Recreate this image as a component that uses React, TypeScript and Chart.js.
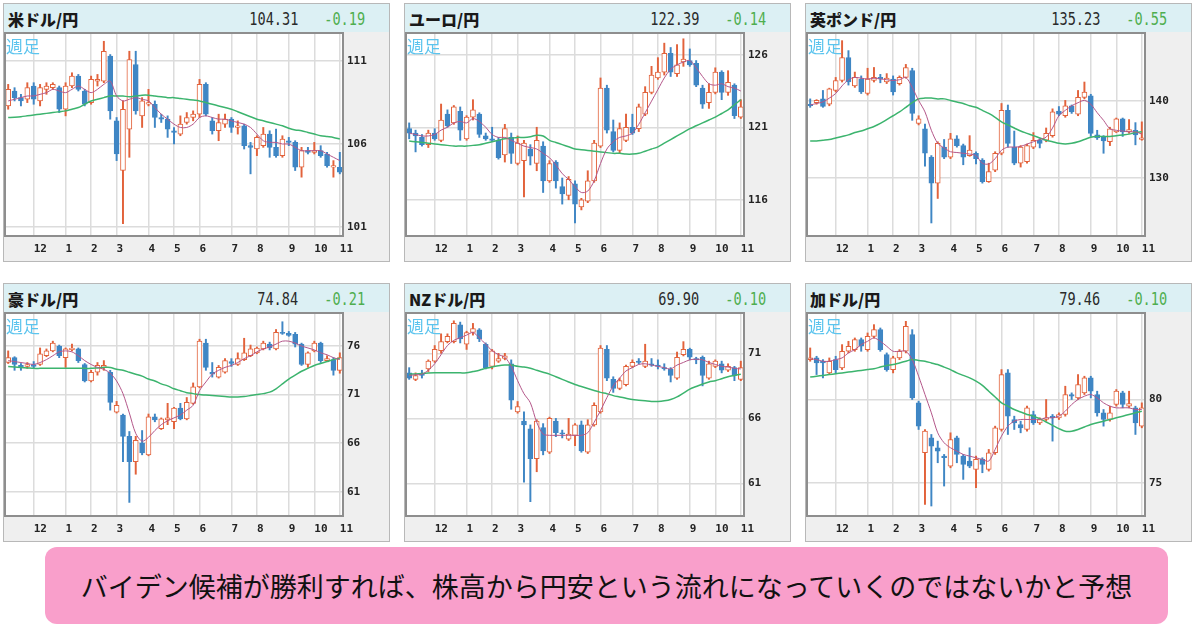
import { useEffect, useRef } from "react";
import { Chart, registerables } from "chart.js";

Chart.register(...registerables);

// weekly candles, Nov 2019 - Nov 2020 (week start dates)
const weeks = [
  "11/04", "11/11", "11/18", "11/25",
  "12/02", "12/09", "12/16", "12/23", "12/30",
  "01/06", "01/13", "01/20", "01/27",
  "02/03", "02/10", "02/17", "02/24",
  "03/02", "03/09", "03/16", "03/23", "03/30",
  "04/06", "04/13", "04/20", "04/27",
  "05/04", "05/11", "05/18", "05/25",
  "06/01", "06/08", "06/15", "06/22", "06/29",
  "07/06", "07/13", "07/20", "07/27",
  "08/03", "08/10", "08/17", "08/24", "08/31",
  "09/07", "09/14", "09/21", "09/28",
  "10/05", "10/12", "10/19", "10/26",
  "11/02",
];

// 米ドル/円
const usdOpen = [108.3, 109.2, 108.8, 108.7, 109.5, 108.6, 109.3, 109.4, 109.4, 108.1, 109.5, 110.1, 109.2, 108.5, 109.8, 109.8, 111.3, 107.4, 104.4, 106.9, 110.8, 107.7, 108.4, 108.4, 107.6, 107.5, 106.8, 106.6, 107.3, 107.6, 107.8, 109.6, 107.4, 106.8, 107.2, 107.5, 107.0, 107.1, 105.9, 105.7, 105.9, 106.6, 105.8, 105.3, 106.2, 106.1, 104.6, 105.6, 105.5, 105.6, 105.4, 104.6, 104.6];
const usdHigh = [109.6, 109.4, 109.0, 109.7, 109.7, 109.6, 109.7, 109.7, 109.5, 109.7, 110.3, 110.2, 109.3, 110.1, 110.2, 112.2, 111.4, 107.6, 108.6, 111.6, 111.6, 108.8, 109.3, 108.6, 107.8, 107.7, 107.0, 107.7, 107.9, 108.0, 109.9, 109.7, 107.6, 107.8, 107.8, 107.6, 107.4, 107.2, 106.1, 106.5, 107.0, 106.8, 106.9, 106.5, 106.4, 106.2, 105.8, 105.8, 106.1, 105.9, 105.5, 105.0, 105.5];
const usdLow = [108.1, 108.6, 108.3, 108.5, 108.4, 108.3, 109.0, 109.3, 107.9, 107.7, 109.4, 109.2, 108.3, 108.4, 109.5, 109.7, 107.5, 105.0, 101.2, 105.2, 107.8, 107.0, 108.3, 107.0, 107.3, 106.4, 106.0, 106.5, 107.2, 107.4, 107.6, 107.7, 106.6, 106.2, 107.0, 106.7, 106.6, 105.7, 104.2, 105.3, 105.8, 105.2, 105.2, 105.2, 105.9, 104.4, 104.0, 105.4, 105.4, 105.2, 104.6, 104.0, 104.2];
const usdClose = [109.3, 108.8, 108.6, 109.4, 108.7, 109.4, 109.5, 109.6, 108.1, 109.5, 110.1, 109.3, 108.4, 109.9, 109.9, 111.6, 108.0, 105.4, 108.1, 111.1, 108.0, 108.6, 108.5, 107.6, 107.5, 106.9, 106.7, 107.2, 107.6, 107.8, 109.6, 107.8, 106.8, 107.3, 107.5, 107.0, 107.1, 105.9, 105.8, 106.4, 106.6, 105.8, 105.3, 106.3, 106.1, 104.6, 105.6, 105.5, 105.6, 105.3, 104.7, 104.7, 104.3];
const usdMaShort = [108.6, 108.7, 108.8, 108.9, 108.9, 109.0, 109.1, 109.3, 109.2, 109.1, 109.3, 109.5, 109.3, 109.1, 109.3, 109.6, 109.8, 108.9, 108.6, 108.7, 108.8, 108.7, 108.6, 108.2, 107.8, 107.5, 107.2, 107.0, 107.0, 107.2, 107.6, 107.7, 107.6, 107.5, 107.5, 107.4, 107.3, 107.2, 107.0, 106.6, 106.2, 106.1, 106.1, 106.0, 106.0, 105.8, 105.6, 105.6, 105.6, 105.6, 105.4, 105.2, 105.0];
const usdMaLong = [107.6, 107.62, 107.65, 107.7, 107.75, 107.8, 107.85, 107.9, 107.95, 108.0, 108.1, 108.2, 108.4, 108.6, 108.7, 108.8, 108.9, 108.9, 108.9, 108.85, 108.9, 108.95, 108.95, 108.9, 108.85, 108.8, 108.8, 108.75, 108.7, 108.65, 108.6, 108.5, 108.4, 108.3, 108.2, 108.1, 107.95, 107.8, 107.65, 107.5, 107.4, 107.3, 107.2, 107.1, 106.95, 106.85, 106.8, 106.7, 106.6, 106.5, 106.45, 106.4, 106.3];

// ユーロ/円
const eurOpen = [120.9, 120.6, 120.3, 119.8, 120.6, 120.1, 121.9, 121.3, 122.1, 120.2, 121.7, 121.9, 120.4, 120.2, 120.1, 119.1, 120.3, 118.5, 118.7, 119.5, 118.5, 119.7, 117.3, 118.6, 116.9, 116.3, 117.1, 115.5, 115.9, 117.3, 119.7, 123.7, 120.7, 119.4, 120.1, 121.0, 120.9, 121.9, 123.4, 124.4, 124.8, 126.1, 124.7, 125.5, 125.6, 125.4, 123.7, 122.7, 123.4, 124.8, 123.4, 123.9, 121.7];
const eurHigh = [121.3, 120.8, 120.5, 120.8, 120.9, 122.6, 122.2, 122.5, 122.4, 121.8, 122.9, 122.0, 120.6, 121.0, 120.3, 121.2, 120.6, 120.4, 120.1, 119.8, 121.0, 120.0, 118.7, 118.7, 117.5, 117.6, 117.3, 116.1, 118.0, 120.1, 124.4, 123.9, 121.5, 121.3, 121.9, 121.9, 122.6, 123.8, 125.2, 125.8, 126.8, 126.5, 126.7, 127.1, 126.4, 125.6, 123.9, 124.0, 125.1, 124.9, 124.9, 124.0, 122.9];
const eurLow = [120.2, 119.3, 119.7, 119.6, 120.1, 120.0, 121.0, 121.2, 120.1, 120.1, 121.5, 120.3, 120.1, 120.0, 118.8, 118.6, 118.5, 118.4, 116.2, 118.4, 118.0, 116.5, 117.2, 116.8, 115.7, 116.0, 114.4, 115.3, 115.8, 117.2, 119.6, 120.6, 119.3, 119.2, 120.0, 120.5, 120.7, 121.8, 123.3, 124.3, 124.6, 124.5, 124.5, 125.2, 125.2, 123.8, 122.3, 122.3, 123.3, 122.9, 123.2, 121.6, 121.6];
const eurClose = [120.6, 120.4, 119.8, 120.6, 120.2, 121.5, 121.1, 122.4, 120.8, 121.7, 122.2, 120.5, 120.2, 120.1, 118.9, 120.9, 119.2, 119.9, 119.9, 119.0, 120.1, 117.3, 118.5, 117.3, 116.4, 117.4, 115.7, 116.0, 117.3, 119.9, 123.7, 120.8, 119.4, 120.9, 121.0, 120.6, 122.4, 123.4, 124.6, 124.8, 126.1, 124.8, 125.3, 125.7, 125.3, 123.9, 122.6, 123.4, 124.8, 123.4, 124.1, 121.8, 122.4];
const eurMaShort = [120.6, 120.5, 120.4, 120.4, 120.5, 120.8, 121.0, 121.3, 121.4, 121.3, 121.6, 121.4, 121.0, 120.5, 120.3, 120.3, 120.1, 119.9, 119.7, 119.6, 119.5, 119.2, 118.9, 118.4, 117.8, 117.4, 116.9, 116.5, 116.6, 117.3, 118.5, 119.5, 120.0, 120.3, 120.4, 120.6, 121.2, 122.0, 122.8, 123.6, 124.4, 125.0, 125.3, 125.5, 125.6, 125.1, 124.5, 124.0, 123.9, 124.0, 123.8, 123.7, 123.5];
const eurMaLong = [120.05, 120.0, 119.95, 119.9, 119.85, 119.8, 119.75, 119.7, 119.7, 119.7, 119.75, 119.8, 119.9, 120.0, 120.1, 120.2, 120.25, 120.3, 120.3, 120.35, 120.45, 120.4, 120.1, 119.95, 119.8, 119.65, 119.5, 119.45, 119.4, 119.35, 119.3, 119.25, 119.2, 119.2, 119.15, 119.15, 119.2, 119.35, 119.5, 119.65, 119.9, 120.15, 120.4, 120.65, 120.9, 121.1, 121.3, 121.5, 121.7, 121.95, 122.2, 122.55, 122.9];

// 英ポンド/円
const gbpOpen = [139.6, 139.8, 140.3, 139.6, 141.4, 142.7, 145.7, 142.0, 142.9, 141.0, 142.7, 143.1, 142.5, 142.9, 142.3, 143.1, 144.0, 137.1, 136.4, 132.7, 129.3, 134.0, 132.7, 135.1, 134.2, 132.9, 133.2, 132.3, 129.5, 131.0, 133.2, 138.8, 134.0, 131.9, 132.1, 134.0, 134.9, 134.9, 135.5, 138.7, 138.1, 139.4, 138.3, 140.5, 140.7, 135.6, 135.3, 134.7, 136.0, 137.7, 136.0, 136.2, 135.0];
const gbpHigh = [140.3, 140.2, 141.4, 141.7, 143.1, 147.9, 146.6, 143.8, 143.3, 144.3, 144.4, 143.5, 143.6, 143.3, 143.3, 144.8, 144.3, 138.1, 137.0, 132.9, 134.7, 135.0, 135.8, 135.5, 134.4, 135.5, 133.4, 132.5, 131.9, 133.4, 139.7, 139.5, 136.1, 134.2, 134.4, 135.9, 135.1, 136.5, 139.0, 139.3, 140.1, 139.5, 141.4, 142.5, 140.9, 136.2, 135.5, 136.6, 137.8, 137.8, 137.6, 137.2, 137.3];
const gbpLow = [139.2, 139.6, 139.2, 139.4, 141.2, 142.5, 142.1, 141.8, 141.0, 140.8, 142.5, 142.4, 142.3, 140.8, 142.1, 143.0, 137.5, 136.9, 131.5, 124.1, 127.3, 132.5, 132.5, 134.0, 131.7, 132.8, 131.8, 129.3, 129.4, 130.8, 133.0, 134.0, 131.7, 131.4, 131.9, 133.8, 133.9, 134.7, 135.3, 138.1, 137.9, 138.4, 138.1, 140.3, 135.4, 135.0, 133.2, 134.2, 135.9, 135.4, 135.8, 134.3, 134.9];
const gbpClose = [139.4, 140.1, 139.3, 141.6, 142.7, 145.7, 142.5, 143.1, 141.2, 142.9, 143.1, 142.9, 143.0, 141.2, 143.1, 144.4, 138.4, 137.7, 133.2, 129.3, 134.5, 132.7, 135.1, 134.2, 132.7, 133.6, 132.5, 129.5, 130.8, 133.2, 138.8, 134.5, 131.9, 134.0, 134.2, 134.9, 134.5, 135.8, 138.6, 138.3, 139.4, 138.6, 140.5, 141.2, 135.8, 135.2, 134.8, 136.4, 137.7, 136.0, 136.3, 135.6, 135.2];
const gbpMaShort = [139.5, 139.7, 139.9, 140.4, 141.0, 142.0, 142.8, 143.1, 143.0, 142.9, 143.0, 142.9, 142.8, 142.7, 142.8, 143.1, 141.8, 140.1, 138.6, 136.2, 134.5, 133.9, 133.4, 133.3, 133.2, 133.1, 132.9, 131.9, 131.8, 132.5, 133.6, 134.0, 134.0, 134.1, 134.4, 134.7, 135.0, 135.3, 136.5, 138.1, 138.8, 139.4, 139.8, 140.1, 139.6, 138.5, 137.5, 136.4, 136.2, 136.1, 136.0, 136.0, 135.7];
const gbpMaLong = [134.8, 134.8, 134.9, 135.0, 135.2, 135.4, 135.6, 135.9, 136.1, 136.4, 136.7, 137.1, 137.6, 138.1, 138.6, 139.2, 139.8, 140.3, 140.4, 140.4, 140.3, 140.3, 140.1, 139.9, 139.7, 139.4, 139.2, 138.8, 138.4, 137.9, 137.3, 136.9, 136.5, 136.1, 135.8, 135.5, 135.2, 134.9, 134.7, 134.5, 134.4, 134.5, 134.7, 135.0, 135.3, 135.4, 135.4, 135.4, 135.5, 135.6, 135.7, 135.9, 136.0];

// 豪ドル/円
const audOpen = [74.3, 74.8, 74.0, 73.9, 74.1, 74.1, 75.0, 75.5, 76.0, 74.8, 75.6, 75.7, 74.1, 72.4, 73.3, 73.8, 73.3, 69.2, 68.9, 66.7, 64.1, 66.0, 64.8, 68.7, 67.5, 68.4, 68.2, 69.6, 68.5, 70.1, 71.8, 76.3, 73.3, 72.8, 73.3, 74.4, 74.1, 74.6, 75.0, 75.3, 75.7, 76.2, 75.7, 77.4, 77.3, 77.2, 76.2, 74.1, 75.5, 76.3, 74.5, 74.6, 73.5];
const audHigh = [75.5, 74.9, 74.2, 74.3, 74.4, 75.8, 75.7, 76.5, 76.1, 75.8, 76.2, 75.8, 74.2, 73.5, 74.3, 74.5, 73.5, 70.3, 69.0, 67.2, 66.7, 67.3, 69.0, 69.0, 68.6, 70.1, 69.7, 70.1, 70.7, 72.2, 76.7, 76.7, 74.3, 74.0, 74.7, 74.7, 75.3, 76.8, 76.1, 75.9, 76.5, 76.4, 77.7, 78.5, 77.5, 77.4, 76.3, 75.4, 76.5, 76.4, 75.0, 74.8, 75.3];
const audLow = [74.2, 73.5, 73.5, 73.7, 73.7, 74.0, 74.9, 75.4, 74.8, 73.8, 75.5, 74.3, 72.3, 72.3, 73.0, 73.5, 69.4, 69.1, 64.1, 59.9, 62.8, 64.8, 64.7, 68.2, 67.4, 67.9, 67.5, 68.4, 68.4, 70.0, 71.7, 73.5, 72.8, 72.7, 73.2, 73.9, 74.0, 74.5, 74.9, 75.2, 75.6, 75.6, 75.6, 77.2, 77.0, 75.9, 74.0, 73.8, 75.4, 74.3, 74.4, 73.0, 73.2];
const audClose = [74.8, 74.1, 73.8, 74.1, 73.9, 75.2, 75.5, 76.3, 75.0, 75.7, 75.8, 74.5, 72.4, 73.3, 74.0, 74.0, 70.2, 69.9, 66.7, 64.1, 66.3, 65.0, 68.7, 68.4, 68.5, 68.6, 69.6, 68.5, 70.2, 71.8, 76.5, 73.8, 73.1, 73.8, 74.5, 74.2, 74.7, 75.3, 75.7, 75.8, 76.3, 75.8, 77.4, 77.3, 77.1, 76.2, 74.1, 75.3, 76.3, 74.5, 74.7, 73.5, 74.8];
const audMaShort = [74.5, 74.4, 74.3, 74.2, 74.1, 74.3, 74.6, 75.0, 75.4, 75.5, 75.4, 75.0, 74.5, 74.1, 73.8, 73.6, 73.2, 72.4, 71.1, 69.1, 67.0, 66.2, 66.6, 67.3, 67.9, 68.3, 68.6, 68.9, 69.4, 69.9, 71.4, 72.3, 73.1, 73.5, 73.8, 74.0, 74.3, 74.7, 75.0, 75.4, 75.7, 75.9, 76.2, 76.5, 76.5, 76.3, 76.0, 75.8, 75.6, 75.3, 75.1, 74.8, 74.6];
const audMaLong = [73.9, 73.85, 73.8, 73.75, 73.7, 73.7, 73.7, 73.7, 73.7, 73.7, 73.7, 73.7, 73.7, 73.7, 73.75, 73.8, 73.8, 73.6, 73.5, 73.3, 73.1, 72.9, 72.6, 72.4, 72.1, 71.9, 71.6, 71.4, 71.2, 71.1, 71.0, 70.95, 70.9, 70.85, 70.8, 70.75, 70.75, 70.8, 70.9, 71.0, 71.1, 71.25, 71.6, 72.1, 72.6, 73.0, 73.4, 73.7, 74.0, 74.2, 74.4, 74.6, 74.75];

// NZドル/円
const nzdOpen = [69.5, 69.0, 69.4, 69.8, 70.4, 71.2, 71.9, 71.9, 73.2, 71.7, 72.6, 72.8, 71.7, 70.0, 70.4, 70.6, 70.2, 66.5, 65.8, 65.2, 62.9, 65.3, 63.4, 65.8, 64.9, 64.4, 64.7, 65.5, 63.4, 65.5, 66.5, 71.3, 69.0, 68.3, 68.6, 70.0, 70.4, 70.0, 70.2, 70.1, 69.9, 69.8, 69.1, 70.9, 71.3, 70.6, 70.7, 69.1, 70.0, 70.2, 69.7, 69.9, 69.0];
const nzdHigh = [69.9, 69.5, 69.7, 70.5, 71.6, 72.5, 72.5, 73.5, 73.4, 72.7, 73.3, 72.9, 71.8, 71.3, 71.0, 71.0, 70.5, 67.3, 66.5, 65.5, 65.9, 65.6, 66.1, 66.0, 65.1, 66.0, 65.6, 65.8, 65.9, 67.2, 71.6, 71.6, 69.2, 69.1, 70.1, 70.5, 70.6, 71.7, 70.6, 70.5, 70.2, 69.9, 71.1, 71.9, 71.4, 70.7, 70.8, 70.4, 70.5, 70.4, 70.2, 70.0, 70.4];
const nzdLow = [69.0, 68.9, 69.1, 69.6, 70.3, 71.0, 71.8, 71.8, 71.8, 71.3, 72.4, 71.9, 69.8, 69.8, 70.3, 70.5, 66.7, 66.4, 61.1, 59.6, 61.9, 63.2, 63.3, 64.6, 64.5, 64.3, 63.9, 63.4, 63.3, 65.4, 66.4, 68.9, 68.0, 68.2, 68.5, 69.9, 70.2, 69.9, 70.0, 69.8, 69.7, 68.8, 69.0, 70.8, 70.5, 70.2, 68.5, 69.0, 69.9, 69.5, 69.6, 68.9, 68.9];
const nzdClose = [69.1, 69.3, 69.3, 70.4, 71.3, 71.9, 72.3, 73.3, 72.1, 72.6, 72.9, 72.1, 69.9, 71.2, 70.6, 70.8, 67.4, 66.9, 65.5, 62.9, 65.8, 63.5, 66.0, 64.9, 64.8, 64.8, 65.5, 63.5, 65.5, 67.0, 71.4, 69.1, 68.3, 68.9, 70.0, 70.3, 70.3, 70.4, 70.1, 70.0, 69.8, 69.3, 70.7, 71.3, 70.7, 70.5, 69.3, 70.2, 70.4, 69.7, 70.0, 69.3, 69.9];
const nzdMaShort = [69.3, 69.35, 69.4, 69.7, 70.2, 70.9, 71.6, 72.0, 72.2, 72.4, 72.6, 72.2, 71.7, 71.2, 70.9, 70.7, 70.0, 68.9, 67.9, 67.2, 65.7, 64.8, 64.7, 64.7, 64.7, 64.7, 64.7, 64.7, 64.9, 65.7, 66.6, 67.6, 68.5, 69.1, 69.65, 69.9, 70.15, 70.2, 70.1, 70.0, 69.9, 69.8, 70.1, 70.3, 70.5, 70.55, 70.5, 70.3, 70.15, 70.0, 69.95, 69.85, 69.8];
const nzdMaLong = [69.4, 69.42, 69.45, 69.48, 69.5, 69.5, 69.5, 69.5, 69.5, 69.5, 69.6, 69.7, 69.85, 69.95, 70.05, 70.1, 70.1, 70.0, 69.95, 69.85, 69.7, 69.55, 69.4, 69.2, 69.0, 68.8, 68.6, 68.45, 68.3, 68.15, 68.0, 67.9, 67.75, 67.65, 67.55, 67.45, 67.4, 67.35, 67.3, 67.3, 67.35, 67.45, 67.65, 67.95, 68.25, 68.45, 68.65, 68.8, 68.9, 69.05, 69.2, 69.3, 69.4];

// 加ドル/円
const cadOpen = [82.4, 82.5, 82.3, 81.6, 82.4, 81.9, 82.9, 83.0, 83.6, 83.0, 83.8, 84.2, 82.7, 81.8, 82.5, 82.9, 83.9, 79.8, 76.8, 77.7, 77.1, 76.6, 76.0, 77.7, 76.6, 76.3, 75.8, 76.4, 75.8, 76.8, 78.2, 81.6, 78.8, 78.5, 78.2, 79.1, 78.6, 78.8, 79.0, 78.9, 79.1, 80.3, 80.1, 80.4, 81.3, 80.3, 79.2, 78.8, 79.7, 80.4, 79.6, 79.5, 78.4];
const cadHigh = [83.1, 82.6, 82.4, 82.5, 82.6, 83.3, 83.5, 83.7, 83.7, 84.0, 84.5, 84.3, 82.8, 82.6, 83.0, 84.7, 84.2, 79.9, 78.2, 77.9, 77.5, 76.7, 78.0, 77.8, 76.7, 77.1, 76.6, 76.5, 77.0, 78.4, 81.8, 81.8, 79.0, 78.7, 79.6, 79.3, 78.9, 80.0, 79.1, 79.2, 80.8, 80.4, 81.5, 81.4, 81.4, 80.5, 79.4, 79.6, 80.6, 80.5, 80.5, 79.6, 79.8];
const cadLow = [82.3, 81.5, 81.3, 81.5, 81.6, 81.8, 82.8, 82.9, 82.9, 82.9, 83.7, 82.9, 81.7, 81.6, 82.4, 82.8, 80.0, 78.2, 73.7, 73.6, 76.2, 74.8, 75.9, 76.2, 75.2, 75.9, 74.7, 75.6, 75.7, 76.7, 78.1, 77.9, 78.2, 78.0, 78.1, 78.5, 78.5, 78.7, 77.5, 78.8, 79.0, 80.0, 80.0, 80.3, 80.1, 79.0, 78.4, 78.7, 79.6, 79.5, 79.5, 77.9, 78.3];
const cadClose = [82.5, 82.2, 82.2, 82.3, 81.8, 82.9, 83.2, 83.6, 83.2, 83.8, 84.2, 83.0, 81.8, 82.5, 82.9, 84.4, 80.1, 78.4, 78.1, 77.2, 76.9, 76.5, 77.6, 76.7, 76.1, 76.0, 76.4, 76.1, 76.8, 78.3, 81.5, 79.0, 78.6, 78.3, 79.5, 78.6, 78.8, 78.9, 78.9, 79.1, 80.3, 80.2, 80.9, 81.3, 80.5, 79.2, 78.8, 79.2, 80.5, 79.7, 79.75, 78.6, 79.5];
const cadMaShort = [82.45, 82.4, 82.3, 82.3, 82.4, 82.5, 82.8, 83.0, 83.3, 83.5, 83.7, 83.5, 83.2, 82.9, 82.9, 82.9, 82.4, 81.4, 80.3, 79.2, 78.0, 77.4, 77.1, 76.9, 76.7, 76.6, 76.5, 76.4, 76.3, 77.0, 77.8, 78.4, 78.7, 78.8, 78.8, 78.8, 78.8, 78.9, 78.9, 79.0, 79.3, 79.7, 80.0, 80.2, 80.3, 80.1, 79.8, 79.6, 79.5, 79.5, 79.5, 79.4, 79.4];
const cadMaLong = [81.35, 81.4, 81.45, 81.5, 81.55, 81.6, 81.65, 81.7, 81.75, 81.8, 81.85, 81.95, 82.05, 82.1, 82.2, 82.3, 82.4, 82.35, 82.3, 82.2, 82.1, 81.95, 81.8, 81.6, 81.45, 81.3, 81.1, 80.85, 80.5, 80.15, 79.8, 79.6, 79.4, 79.25, 79.1, 79.0, 78.85, 78.65, 78.45, 78.25, 78.1, 78.1, 78.2, 78.35, 78.5, 78.6, 78.7, 78.8, 78.9, 79.0, 79.1, 79.2, 79.3];

const UP = "#e2623b";
const DOWN = "#3f86c4";
const MA_SHORT = "#b4578a";
const MA_LONG = "#3cb46e";
const GRID = "#dcdcdc";
const TICK_FONT = { family: "'DejaVu Sans Mono', monospace", size: 11, weight: "bold" as const };

const panels = [
  { name: "米ドル/円", price: "104.31", change: "-0.19", open: usdOpen, high: usdHigh, low: usdLow, close: usdClose, maShort: usdMaShort, maLong: usdMaLong, yMin: 100.45, yMax: 112.7, yTicks: [101, 106, 111] },
  { name: "ユーロ/円", price: "122.39", change: "-0.14", open: eurOpen, high: eurHigh, low: eurLow, close: eurClose, maShort: eurMaShort, maLong: eurMaLong, yMin: 113.5, yMax: 127.5, yTicks: [116, 121, 126] },
  { name: "英ポンド/円", price: "135.23", change: "-0.55", open: gbpOpen, high: gbpHigh, low: gbpLow, close: gbpClose, maShort: gbpMaShort, maLong: gbpMaLong, yMin: 122.4, yMax: 148.9, yTicks: [130, 140] },
  { name: "豪ドル/円", price: "74.84", change: "-0.21", open: audOpen, high: audHigh, low: audLow, close: audClose, maShort: audMaShort, maLong: audMaLong, yMin: 58.5, yMax: 79.4, yTicks: [61, 66, 71, 76] },
  { name: "NZドル/円", price: "69.90", change: "-0.10", open: nzdOpen, high: nzdHigh, low: nzdLow, close: nzdClose, maShort: nzdMaShort, maLong: nzdMaLong, yMin: 58.5, yMax: 74.1, yTicks: [61, 66, 71] },
  { name: "加ドル/円", price: "79.46", change: "-0.10", open: cadOpen, high: cadHigh, low: cadLow, close: cadClose, maShort: cadMaShort, maLong: cadMaLong, yMin: 73.0, yMax: 85.2, yTicks: [75, 80] },
];

const slots = [
  [3, 3], [404, 3], [805, 3],
  [3, 283], [404, 283], [805, 283],
];

// month number shown at the first week of each month
function monthLabel(i: number) {
  if (i <= 0) return "";
  const m = weeks[i].slice(0, 2);
  if (weeks[i - 1].slice(0, 2) === m) return "";
  return String(Number(m));
}

// no extra room for half-labels at the plot edges
function noEdgePadding(s: any) {
  s.paddingTop = 0;
  s.paddingBottom = 0;
  s.paddingLeft = 0;
  s.paddingRight = 0;
}

// white plot area with a grey frame
const plotFrame = {
  id: "plotFrame",
  beforeDraw(chart: Chart) {
    const { ctx, chartArea: a } = chart;
    ctx.save();
    ctx.fillStyle = "#ffffff";
    ctx.fillRect(a.left, a.top, a.right - a.left, a.bottom - a.top);
    ctx.restore();
  },
  afterDraw(chart: Chart) {
    const { ctx, chartArea: a } = chart;
    ctx.save();
    ctx.strokeStyle = "#8e8e8e";
    ctx.lineWidth = 2;
    ctx.strokeRect(a.left, a.top, a.right - a.left, a.bottom - a.top);
    ctx.restore();
  },
};

const numStyle = {
  position: "absolute" as const,
  top: 0,
  lineHeight: "30px",
  fontFamily: "'DejaVu Sans Mono', monospace",
  fontSize: 17,
  transform: "scaleX(0.8)",
  transformOrigin: "right center",
};

function Panel({ cfg, left, top }: { cfg: (typeof panels)[number]; left: number; top: number }) {
  const canvasRef = useRef<HTMLCanvasElement>(null);

  useEffect(() => {
    if (!canvasRef.current) return;
    const up = cfg.open.map((o, i) => cfg.close[i] >= o);

    const chart = new Chart(canvasRef.current, {
      type: "bar",
      data: {
        labels: weeks,
        datasets: [
          {
            type: "line",
            data: cfg.maShort,
            borderColor: MA_SHORT,
            borderWidth: 1,
            pointRadius: 0,
            tension: 0.3,
            order: 0,
          },
          {
            type: "line",
            data: cfg.maLong,
            borderColor: MA_LONG,
            borderWidth: 1.5,
            pointRadius: 0,
            tension: 0.3,
            order: 0,
          },
          {
            type: "bar",
            data: cfg.open.map((o, i) => [o, cfg.close[i]]),
            backgroundColor: up.map((u) => (u ? "#ffffff" : DOWN)),
            borderColor: up.map((u) => (u ? UP : DOWN)),
            borderWidth: 1,
            borderSkipped: false,
            barThickness: 5,
            minBarLength: 1,
            grouped: false,
            order: 1,
          },
          {
            type: "bar",
            data: cfg.low.map((l, i) => [l, cfg.high[i]]),
            backgroundColor: up.map((u) => (u ? UP : DOWN)),
            borderWidth: 0,
            barThickness: 1.3,
            grouped: false,
            order: 2,
          },
        ] as any,
      },
      options: {
        animation: false,
        responsive: true,
        maintainAspectRatio: false,
        events: [],
        layout: { padding: { left: 1, top: 1, right: 0, bottom: 0 } },
        plugins: {
          legend: { display: false },
          tooltip: { enabled: false },
        },
        scales: {
          x: {
            grid: {
              offset: false,
              drawTicks: false,
              lineWidth: 1.5,
              color: (c: any) => (monthLabel(c.index) ? GRID : "transparent"),
            },
            border: { display: false },
            ticks: {
              autoSkip: false,
              maxRotation: 0,
              align: "start",
              padding: 7,
              color: "#222",
              font: TICK_FONT,
              callback: (_v: any, i: number) => monthLabel(i),
            },
            afterFit: (s: any) => {
              s.height = 25;
              noEdgePadding(s);
            },
          },
          y: {
            position: "right",
            min: cfg.yMin,
            max: cfg.yMax,
            afterBuildTicks: (s: any) => {
              s.ticks = cfg.yTicks.map((v) => ({ value: v }));
            },
            grid: { color: GRID, lineWidth: 1.5, drawTicks: false },
            border: { display: false },
            ticks: {
              padding: 4,
              color: "#222",
              font: TICK_FONT,
              callback: (v: any) => String(v),
            },
            afterFit: (s: any) => {
              s.width = 46;
              noEdgePadding(s);
            },
          },
        },
      },
      plugins: [plotFrame as any],
    });

    return () => chart.destroy();
  }, [cfg]);

  return (
    <div
      style={{
        position: "absolute",
        left,
        top,
        width: 387,
        height: 259,
        boxSizing: "border-box",
        border: "1px solid #b8b8b8",
        background: "#efefef",
      }}
    >
      <div style={{ position: "relative", height: 28, background: "#dcf0f4" }}>
        <span
          style={{
            position: "absolute",
            left: 4,
            top: 0,
            lineHeight: "30px",
            fontFamily: "'Noto Sans CJK JP', sans-serif",
            fontWeight: 900,
            fontSize: 16,
            color: "#1a1a1a",
          }}
        >
          {cfg.name}
        </span>
        <span style={{ ...numStyle, right: 91, color: "#2a2a2a" }}>{cfg.price}</span>
        <span style={{ ...numStyle, right: 24, color: "#4fae4f" }}>{cfg.change}</span>
      </div>
      <div style={{ position: "absolute", left: 0, top: 28, width: 385, height: 229 }}>
        <canvas ref={canvasRef} />
        <div
          style={{
            position: "absolute",
            left: 2,
            top: 5,
            fontFamily: "'Noto Sans CJK JP', sans-serif",
            fontSize: 17,
            lineHeight: 1,
            color: "#5cc4ee",
            pointerEvents: "none",
          }}
        >
          週足
        </div>
      </div>
    </div>
  );
}

export default function App() {
  return (
    <div
      style={{
        position: "fixed",
        left: 0,
        top: 0,
        width: 1200,
        height: 630,
        background: "#ffffff",
        overflow: "hidden",
      }}
    >
      {panels.map((p, i) => (
        <Panel key={p.name} cfg={p} left={slots[i][0]} top={slots[i][1]} />
      ))}
      <div
        style={{
          position: "absolute",
          left: 45,
          top: 547,
          width: 1123,
          height: 77,
          borderRadius: 12,
          background: "#f99fcb",
          display: "flex",
          alignItems: "center",
          justifyContent: "center",
          fontFamily: "'Noto Sans CJK JP', sans-serif",
          fontSize: 27,
          color: "#111",
        }}
      >
        バイデン候補が勝利すれば、株高から円安という流れになっていくのではないかと予想
      </div>
    </div>
  );
}
